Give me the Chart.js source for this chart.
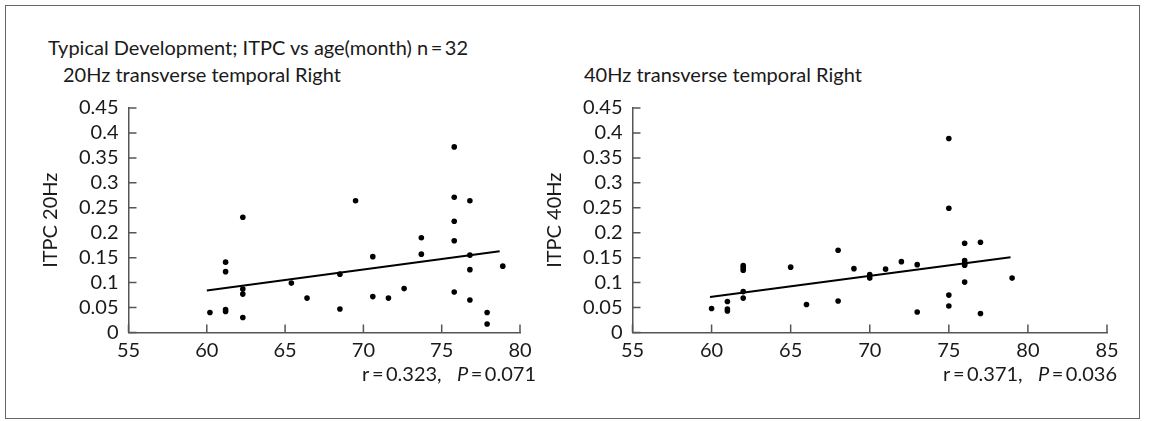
<!DOCTYPE html>
<html lang="en">
<head>
<meta charset="UTF-8">
<title>Typical Development; ITPC vs age(month)</title>
<script src="https://cdn.jsdelivr.net/npm/chart.js"></script>
<style>
    * {
        margin: 0;
        padding: 0;
        box-sizing: border-box;
    }

    body {
        width: 1151px;
        height: 421px;
        background: #fff;
        position: relative;
        overflow: hidden;
        font-family: 'Lato', sans-serif;
        color: #1a1a1a;
    }

    .frame {
        position: absolute;
        left: 5px;
        top: 5px;
        width: 1135px;
        height: 414px;
        border: 1.5px solid #666;
    }

    .txt {
        position: absolute;
        font-size: 20px;
        line-height: 24px;
        white-space: nowrap;
    }

    .stat {
        text-align: right;
    }

    .chart-box {
        position: absolute;
        top: 0;
        height: 421px;
    }
</style>
</head>
<body>
<div class="frame"></div>

<div class="txt" style="left:48px; top:35px;">Typical Development; ITPC vs age(month) n&#8201;=&#8201;32</div>
<div class="txt" style="left:63px; top:62px;">20Hz transverse temporal Right</div>
<div class="txt" style="left:584px; top:62px;">40Hz transverse temporal Right</div>

<div class="chart-box" style="left:0; width:560px;"><canvas id="itpc20"></canvas></div>
<div class="chart-box" style="left:504px; width:643px;"><canvas id="itpc40"></canvas></div>

<div class="txt stat" style="right:615px; top:361px;">r&#8201;=&#8201;0.323,&nbsp;&nbsp;&nbsp;<i>P</i>&#8201;=&#8201;0.071</div>
<div class="txt stat" style="right:34px; top:361px;">r&#8201;=&#8201;0.371,&nbsp;&nbsp;&nbsp;<i>P</i>&#8201;=&#8201;0.036</div>

<script>
    // 20Hz: age (month) and ITPC
    const age20 = [62.3, 61.2, 61.2, 62.3, 62.3, 60.2, 61.2, 61.2, 62.3, 65.4, 66.4, 68.5, 68.5,
                   75.8, 69.5, 75.8, 76.8, 75.8, 73.7, 75.8, 70.6, 73.7, 76.8, 76.8, 70.6,
                   71.6, 72.6, 75.8, 76.8, 77.9, 77.9, 78.9];
    const itpc20 = [0.231, 0.141, 0.122, 0.087, 0.077, 0.040, 0.046, 0.042, 0.030, 0.099, 0.069, 0.117, 0.047,
                    0.372, 0.264, 0.271, 0.264, 0.223, 0.190, 0.184, 0.152, 0.157, 0.155, 0.126, 0.072,
                    0.069, 0.088, 0.081, 0.065, 0.040, 0.017, 0.133];
    const fitAge20 = [60.0, 78.7];
    const fitItpc20 = [0.084, 0.163];

    // 40Hz: age (month) and ITPC
    const age40 = [68, 62, 62, 62, 65, 62, 62, 61, 61, 61, 60, 66, 68,
                   75, 75, 76, 77, 69, 71, 72, 73, 76, 76, 70, 70, 76, 79, 75, 75, 73, 77, 76];
    const itpc40 = [0.165, 0.134, 0.130, 0.125, 0.131, 0.082, 0.069, 0.062, 0.047, 0.043, 0.048, 0.056, 0.063,
                    0.389, 0.249, 0.179, 0.181, 0.128, 0.127, 0.142, 0.136, 0.144, 0.138, 0.116, 0.109,
                    0.101, 0.109, 0.075, 0.053, 0.041, 0.038, 0.135];
    const fitAge40 = [59.9, 78.9];
    const fitItpc40 = [0.071, 0.151];

    const yTickLabels = ['0', '0.05', '0.1', '0.15', '0.2', '0.25', '0.3', '0.35', '0.4', '0.45'];

    const FONT = { family: 'Lato', size: 20 };
    const AXIS_COLOR = '#555';

    // tick marks drawn inward from the axis lines
    const inwardTicks = {
        id: 'inwardTicks',
        afterDraw(chart) {
            const ctx = chart.ctx;
            const xs = chart.scales.x, ys = chart.scales.y;
            const area = chart.chartArea;
            ctx.save();
            ctx.strokeStyle = AXIS_COLOR;
            ctx.lineWidth = 1.5;
            ctx.beginPath();
            xs.ticks.forEach(t => {
                const px = xs.getPixelForValue(t.value);
                ctx.moveTo(px, area.bottom);
                ctx.lineTo(px, area.bottom - 8);
            });
            ys.ticks.forEach(t => {
                const py = ys.getPixelForValue(t.value);
                ctx.moveTo(area.left, py);
                ctx.lineTo(area.left + 8, py);
            });
            ctx.stroke();
            ctx.restore();
        }
    };

    function makeChart(id, ages, vals, fitX, fitY, xMax, yTitle) {
        const points = ages.map((a, i) => ({ x: a, y: vals[i] }));
        const fit = fitX.map((a, i) => ({ x: a, y: fitY[i] }));
        return new Chart(document.getElementById(id), {
            type: 'scatter',
            data: {
                datasets: [{
                    data: points,
                    backgroundColor: '#000',
                    borderWidth: 0,
                    pointRadius: 2.8
                }, {
                    data: fit,
                    showLine: true,
                    borderColor: '#000',
                    borderWidth: 2,
                    pointRadius: 0
                }]
            },
            options: {
                responsive: true,
                maintainAspectRatio: false,
                animation: false,
                layout: { padding: { left: 0, right: 40, top: 108, bottom: 38.5 } },
                plugins: {
                    legend: { display: false },
                    tooltip: { enabled: false }
                },
                scales: {
                    x: {
                        type: 'linear',
                        min: 55,
                        max: xMax,
                        afterFit: s => { s.height = 50; },
                        ticks: { stepSize: 5, autoSkip: false, font: FONT, color: '#1a1a1a', padding: 6, maxRotation: 0 },
                        grid: { display: true, drawOnChartArea: false, drawTicks: false },
                        border: { display: true, color: AXIS_COLOR, width: 1.5 }
                    },
                    y: {
                        min: 0,
                        max: 0.45,
                        afterFit: s => { s.width = 128.5; },
                        ticks: {
                            stepSize: 0.05,
                            autoSkip: false,
                            font: FONT,
                            color: '#1a1a1a',
                            padding: 10,
                            callback: v => yTickLabels[Math.round(v / 0.05)]
                        },
                        grid: { display: true, drawOnChartArea: false, drawTicks: false },
                        border: { display: true, color: AXIS_COLOR, width: 1.5 },
                        title: { display: true, text: yTitle, font: FONT, color: '#1a1a1a', padding: { top: 39, bottom: 0 } }
                    }
                }
            },
            plugins: [inwardTicks]
        });
    }

    makeChart('itpc20', age20, itpc20, fitAge20, fitItpc20, 80, 'ITPC 20Hz');
    makeChart('itpc40', age40, itpc40, fitAge40, fitItpc40, 85, 'ITPC 40Hz');
</script>
</body>
</html>
